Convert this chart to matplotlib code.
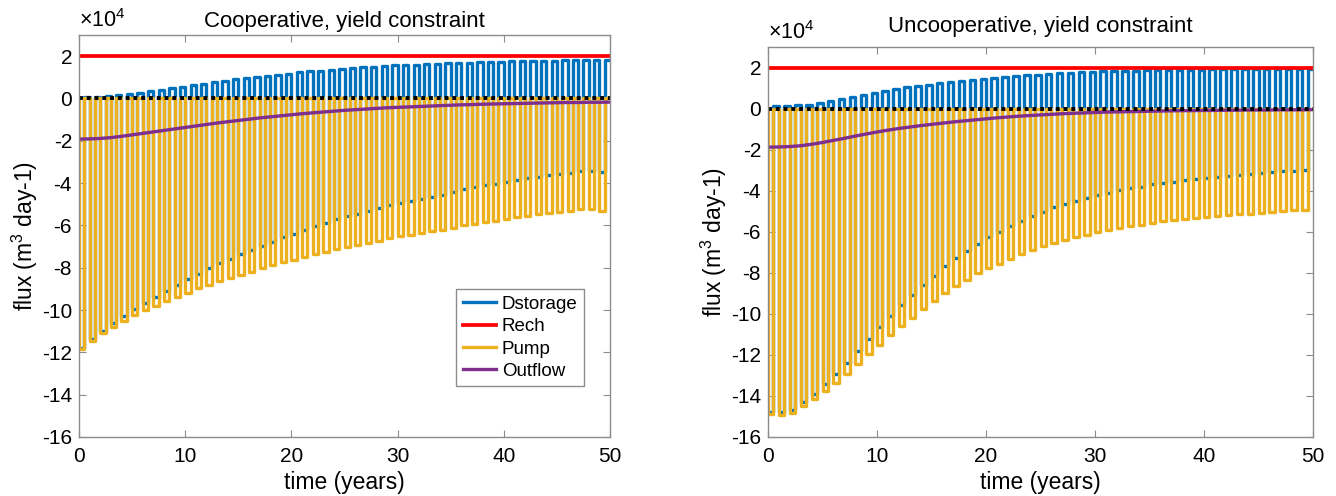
import numpy as np
import matplotlib
matplotlib.use("Agg")
import matplotlib.pyplot as plt
from matplotlib.ticker import FuncFormatter

plt.rcParams['font.family'] = ['Liberation Sans', 'DejaVu Sans']
plt.rcParams['mathtext.fontset'] = 'custom'
plt.rcParams['mathtext.rm'] = 'Liberation Sans'
plt.rcParams['mathtext.it'] = 'Liberation Sans:italic'

# Data (m3/day), one value per year
rech = 20000

pump_coop = [-118500, -114500, -110800, -107800, -105000, -102500, -100200, -98000, -95800, -93800,
             -91800, -89800, -88000, -86300, -84800, -83300, -81800, -80300, -78900, -77500,
             -76200, -75000, -73700, -72400, -71200, -70100, -69100, -68200, -67300, -66100,
             -65000, -64300, -63700, -62800, -62000, -61000, -60000, -59100, -58300, -57700,
             -57100, -56200, -55400, -54700, -54000, -53600, -53200, -52200, -52300, -53000]
outflow_coop = [-19200, -19100, -18900, -18500, -17900, -17200, -16500, -15800, -15100, -14400,
                -13700, -13000, -12300, -11600, -11000, -10400, -9800, -9200, -8700, -8200,
                -7700, -7200, -6800, -6400, -6000, -5600, -5300, -5000, -4700, -4400,
                -4200, -4000, -3800, -3600, -3400, -3200, -3000, -2900, -2700, -2600,
                -2500, -2400, -2300, -2200, -2100, -2000, -1900, -1900, -1800, -1800, -1700]

pump_uncoop = [-149000, -149300, -148500, -145000, -141500, -137500, -133800, -129500, -124600, -119700,
               -115200, -110500, -106000, -101900, -97800, -93800, -89800, -86500, -83300, -80300,
               -77600, -75500, -73100, -70900, -68900, -67100, -65300, -64000, -62700, -61600,
               -60300, -59300, -58100, -57300, -56600, -55600, -54900, -54500, -53800, -53300,
               -52800, -52300, -51900, -51500, -51200, -50800, -50300, -50000, -49600, -49300]
outflow_uncoop = [-18800, -18700, -18500, -18100, -17400, -16500, -15500, -14500, -13400, -12400,
                  -11400, -10500, -9700, -9000, -8300, -7700, -7100, -6500, -6000, -5500,
                  -5000, -4500, -4100, -3700, -3400, -3100, -2800, -2500, -2300, -2100,
                  -1900, -1700, -1600, -1500, -1400, -1300, -1200, -1100, -1000, -1000,
                  -900, -900, -800, -800, -700, -700, -700, -600, -600, -600, -500]

titles = ["Cooperative, yield constraint", "Uncooperative, yield constraint"]

c_blue = '#0072BD'
c_red = '#FF0000'
c_orange = '#EDB120'
c_purple = '#7E2F8E'
c_axis = '#8c8c8c'
lw = 2.4


def half_year(on, off):
    # "on" value in the first half of each year, "off" in the second half
    t = np.arange(0, 50.5, 0.5)
    v = np.empty(len(t))
    v[0:-1:2] = on
    v[1::2] = off
    v[-1] = off[-1]
    return t, v


fig = plt.figure(figsize=(13.36, 4.96), dpi=100)
ax1 = fig.add_axes([79/1336, 59/496, 531/1336, 402/496])
ax2 = fig.add_axes([768/1336, 59/496, 545/1336, 390/496])

panels = [(ax1, pump_coop, outflow_coop, 6), (ax2, pump_uncoop, outflow_uncoop, 11)]

for i, (ax, pump, outflow, tpad) in enumerate(panels):
    pump = np.array(pump, dtype=float)
    outflow = np.array(outflow, dtype=float)

    # water balance: storage change = recharge + pumping + outflow
    t, dst = half_year(rech + outflow[:50] + pump, rech + outflow[:50])
    tp, pp = half_year(pump, np.zeros(50))
    tp = np.r_[0, tp]
    pp = np.r_[0, pp]

    ax.step(t, dst, where='post', color=c_blue, lw=lw, label='Dstorage')
    ax.plot(t, np.full_like(t, rech), color=c_red, lw=lw + 0.3, label='Rech')
    ax.step(tp, pp, where='post', color=c_orange, lw=lw, label='Pump')
    ax.plot(np.arange(51), outflow, color=c_purple, lw=lw, label='Outflow')
    ax.axhline(0, color='black', lw=2.8, ls=(0, (1, 1)))

    ax.set_xlim(0, 50)
    ax.set_ylim(-160000, 30000)
    ax.set_xticks(np.arange(0, 51, 10))
    ax.set_yticks(np.arange(-160000, 20001, 20000))
    ax.yaxis.set_major_formatter(FuncFormatter(lambda v, p: f"{v/1e4:g}"))
    ax.tick_params(direction='in', top=True, right=True, length=5, width=0.8,
                   color=c_axis, labelcolor='black', labelsize=15, pad=5)
    ax.tick_params(axis='x', pad=7)
    for s in ax.spines.values():
        s.set_color(c_axis)
        s.set_linewidth(1.0)

    ax.set_xlabel('time (years)', fontsize=16.5, labelpad=4)
    ax.set_ylabel('flux (m$^{3}$ day-1)', fontsize=16.5, labelpad=1)
    ax.set_title(titles[i], fontsize=16, pad=tpad)
    ax.annotate(r'$\times$10$^{4}$', xy=(0, 1), xycoords='axes fraction',
                xytext=(0, 2), textcoords='offset points', ha='left', va='bottom',
                fontsize=15.5)

ax1.legend(loc='upper left', bbox_to_anchor=(0.71, 0.368), fontsize=13.5,
           frameon=True, fancybox=False, edgecolor=c_axis, framealpha=1,
           handlelength=1.8, handletextpad=0.3, labelspacing=0.28,
           borderpad=0.35, borderaxespad=0)

fig.savefig('out.png', dpi=100)
